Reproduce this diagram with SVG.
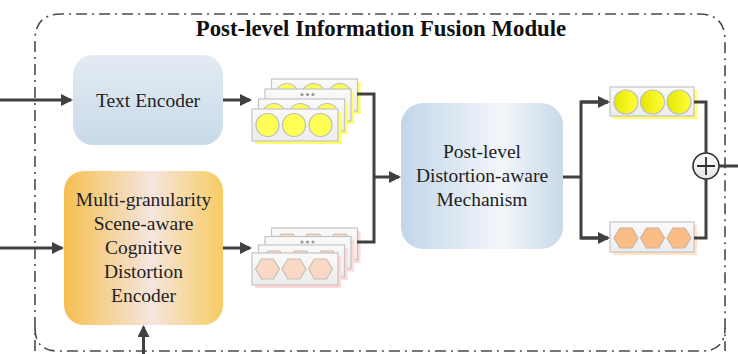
<svg xmlns="http://www.w3.org/2000/svg" xmlns:xlink="http://www.w3.org/1999/xlink" width="738" height="354" viewBox="0 0 738 354">
  <style>
    .lbl { font-family: "Liberation Serif", "Times New Roman", serif; font-size: 19.5px; fill: #1e1e1e; text-anchor: middle; }
    .title { font-family: "Liberation Serif", "Times New Roman", serif; font-size: 22.8px; font-weight: bold; fill: #111; text-anchor: middle; }
    .frame { fill: none; stroke: #4a4a4a; stroke-width: 1.6; stroke-dasharray: 11 5 2 5; }
    .wire { fill: none; stroke: #404040; stroke-width: 3; stroke-linejoin: miter; }
    .card { fill: url(#cardFill); stroke: #c4c4c4; stroke-width: 1.2; }
    .dot { fill: #9a9a9a; }
    .yc { fill: #ffff55; stroke: #bdbdbd; stroke-width: 1.2; }
    .oh { fill: #f9d9c6; stroke: #c9bdb3; stroke-width: 1.2; }
  </style>
  <defs>
    <marker id="ah" viewBox="0 0 12 12" refX="10" refY="6" markerWidth="12" markerHeight="12" orient="auto" markerUnits="userSpaceOnUse">
      <path d="M0,0 L12,6 L0,12 z" fill="#404040"/>
    </marker>
    <linearGradient id="cardFill" x1="0" y1="0" x2="0" y2="1">
      <stop offset="0" stop-color="#fafafa"/>
      <stop offset="1" stop-color="#ececec"/>
    </linearGradient>
    <linearGradient id="blueV" x1="0" y1="0" x2="0" y2="1">
      <stop offset="0" stop-color="#e3ebf3"/>
      <stop offset="1" stop-color="#c9dae9"/>
    </linearGradient>
    <linearGradient id="blueH" x1="0" y1="0" x2="1" y2="0">
      <stop offset="0" stop-color="#c2d6ea"/>
      <stop offset="0.62" stop-color="#f3f6fa"/>
      <stop offset="1" stop-color="#c9d9ea"/>
    </linearGradient>
    <linearGradient id="orangeH" x1="0" y1="0" x2="1" y2="0">
      <stop offset="0" stop-color="#f5bf50"/>
      <stop offset="0.55" stop-color="#f5e5df"/>
      <stop offset="1" stop-color="#f8cc62"/>
    </linearGradient>
    <linearGradient id="yellowOut" x1="0" y1="0" x2="1" y2="0">
      <stop offset="0" stop-color="#e6e600"/>
      <stop offset="1" stop-color="#ffff3c"/>
    </linearGradient>
    <linearGradient id="plusFill" x1="0" y1="0" x2="0" y2="1">
      <stop offset="0" stop-color="#ffffff"/>
      <stop offset="1" stop-color="#e4e4e4"/>
    </linearGradient>

    <!-- feature card with three circles -->
    <g id="ycard">
      <rect x="3" y="3" width="86" height="32" fill="#ffff66"/>
      <rect class="card" x="0" y="0" width="86" height="32"/>
      <circle class="yc" cx="15.5" cy="16" r="11.5"/>
      <circle class="yc" cx="42" cy="16" r="11.5"/>
      <circle class="yc" cx="68.5" cy="16" r="11.5"/>
    </g>
    <!-- feature card with three hexagons -->
    <g id="hexrow">
      <polygon class="oh" points="3.5,16 9.5,6 21.5,6 27.5,16 21.5,26 9.5,26"/>
      <polygon class="oh" points="30,16 36,6 48,6 54,16 48,26 36,26"/>
      <polygon class="oh" points="56.5,16 62.5,6 74.5,6 80.5,16 74.5,26 62.5,26"/>
    </g>
    <g id="ocard">
      <rect x="3" y="3" width="86" height="32" fill="#ffd8d8"/>
      <rect class="card" x="0" y="0" width="86" height="32"/>
      <use xlink:href="#hexrow"/>
    </g>
    <!-- placeholder card for the elided rows -->
    <g id="ellipsis-card-y">
      <rect x="3" y="3" width="86" height="32" fill="#ffff66"/>
      <rect class="card" x="0" y="0" width="86" height="32"/>
      <circle class="dot" cx="37" cy="5.5" r="1.6"/>
      <circle class="dot" cx="42.5" cy="5.5" r="1.6"/>
      <circle class="dot" cx="48" cy="5.5" r="1.6"/>
    </g>
    <g id="ellipsis-card-o">
      <rect x="3" y="3" width="86" height="32" fill="#ffd8d8"/>
      <rect class="card" x="0" y="0" width="86" height="32"/>
      <circle class="dot" cx="37" cy="5.5" r="1.6"/>
      <circle class="dot" cx="42.5" cy="5.5" r="1.6"/>
      <circle class="dot" cx="48" cy="5.5" r="1.6"/>
    </g>
  </defs>

  <rect width="738" height="354" fill="#ffffff"/>

  <!-- module frame and title -->
  <g id="fusion-module">
    <path class="frame" d="M35,351 L35,40 Q35,14 61,14 L699,14 Q725,14 725,40 L725,351"/>
    <path class="frame" d="M35,328 Q35,351 58,351 L702,351 Q725,351 725,328"/>
    <text class="title" x="381" y="36">Post-level Information Fusion Module</text>
  </g>

  <g id="text-encoder">
    <rect x="73" y="55" width="150" height="90" rx="20" fill="url(#blueV)"/>
    <text class="lbl" x="148" y="107">Text Encoder</text>
  </g>

  <g id="scene-encoder">
    <rect x="64" y="171" width="159" height="154" rx="20" fill="url(#orangeH)"/>
    <text class="lbl" x="143.5" y="206">Multi-granularity</text>
    <text class="lbl" x="143.5" y="230">Scene-aware</text>
    <text class="lbl" x="143.5" y="254">Cognitive</text>
    <text class="lbl" x="143.5" y="278">Distortion</text>
    <text class="lbl" x="143.5" y="302">Encoder</text>
  </g>

  <g id="text-features">
    <use xlink:href="#ycard" x="271.5" y="79"/>
    <use xlink:href="#ellipsis-card-y" x="265" y="89"/>
    <use xlink:href="#ycard" x="258.5" y="99"/>
    <use xlink:href="#ycard" x="252" y="109"/>
  </g>

  <g id="scene-features">
    <use xlink:href="#ocard" x="271.5" y="228"/>
    <use xlink:href="#ellipsis-card-o" x="265" y="236.5"/>
    <use xlink:href="#ocard" x="258.5" y="245"/>
    <use xlink:href="#ocard" x="252" y="253"/>
  </g>

  <g id="distortion-mechanism">
    <rect x="401" y="103" width="162" height="146" rx="22" fill="url(#blueH)"/>
    <text class="lbl" x="482" y="158">Post-level</text>
    <text class="lbl" x="482" y="182">Distortion-aware</text>
    <text class="lbl" x="482" y="206">Mechanism</text>
  </g>

  <g id="text-output">
    <rect x="613" y="90" width="84" height="29" fill="#ffff70"/>
    <rect class="card" x="610" y="87" width="84" height="29"/>
    <circle cx="626" cy="102" r="12" fill="url(#yellowOut)" stroke="#bdbdbd" stroke-width="1.2"/>
    <circle cx="652.5" cy="102" r="12" fill="url(#yellowOut)" stroke="#bdbdbd" stroke-width="1.2"/>
    <circle cx="679" cy="102" r="12" fill="url(#yellowOut)" stroke="#bdbdbd" stroke-width="1.2"/>
  </g>

  <g id="scene-output">
    <rect x="613" y="225" width="84" height="30" fill="#ffe2c8"/>
    <rect class="card" x="610" y="222" width="84" height="30"/>
    <polygon points="614,238 620,228 632,228 638,238 632,248 620,248" fill="#fbbd86" stroke="#c9b4a4" stroke-width="1.2"/>
    <polygon points="640.5,238 646.5,228 658.5,228 664.5,238 658.5,248 646.5,248" fill="#fbbd86" stroke="#c9b4a4" stroke-width="1.2"/>
    <polygon points="667,238 673,228 685,228 691,238 685,248 673,248" fill="#fbbd86" stroke="#c9b4a4" stroke-width="1.2"/>
  </g>

  <g id="fusion-add">
    <circle cx="706" cy="166" r="13" fill="url(#plusFill)" stroke="#2e2e2e" stroke-width="1.6"/>
    <path d="M697,166 H715 M706,157 V175" stroke="#2e2e2e" stroke-width="1.8" fill="none"/>
  </g>

  <g id="connectors">
    <path class="wire" d="M0,100 H71" marker-end="url(#ah)"/>
    <path class="wire" d="M0,248 H62" marker-end="url(#ah)"/>
    <path class="wire" d="M143.5,354 V327" marker-end="url(#ah)"/>
    <path class="wire" d="M223,100 H250" marker-end="url(#ah)"/>
    <path class="wire" d="M223,248 H250" marker-end="url(#ah)"/>
    <path class="wire" d="M357,94 H374 V242 H357"/>
    <path class="wire" d="M374,177 H399" marker-end="url(#ah)"/>
    <path class="wire" d="M563,177 H581"/>
    <path class="wire" d="M608,102 H581 V238 H608"/>
    <path class="wire" d="M581,102 H608" marker-end="url(#ah)"/>
    <path class="wire" d="M581,238 H608" marker-end="url(#ah)"/>
    <path class="wire" d="M694,102 H706 V153"/>
    <path class="wire" d="M694,238 H706 V179"/>
    <path class="wire" d="M719,166 H738"/>
  </g>
</svg>
